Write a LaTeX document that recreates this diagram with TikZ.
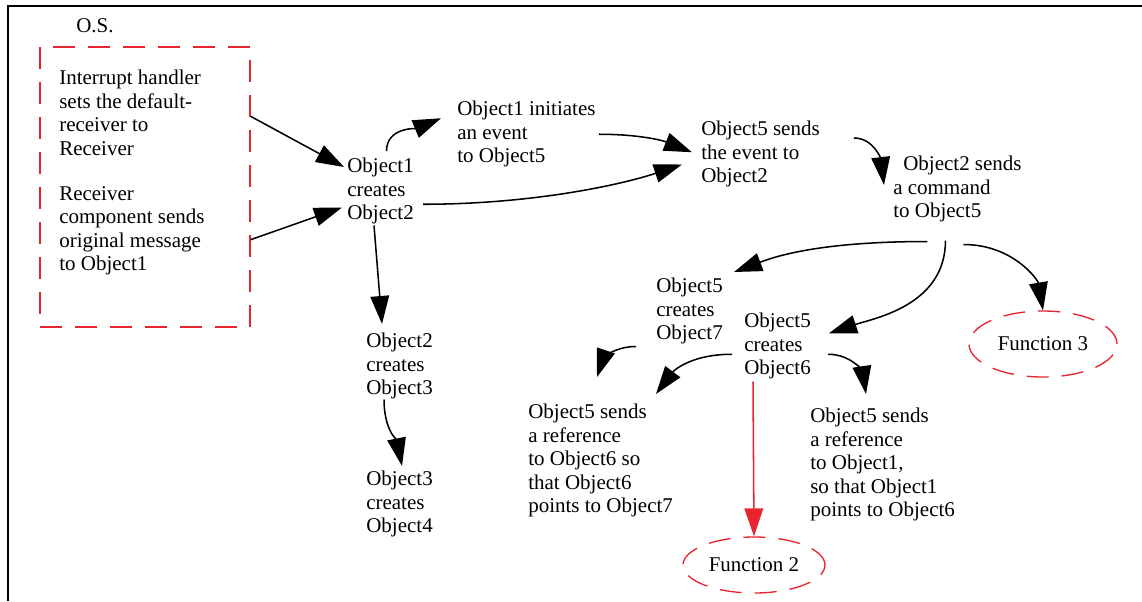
\documentclass[tikz,border=0pt]{standalone}
\usepackage{fontspec}
\setmainfont{Liberation Serif}
\usetikzlibrary{arrows.meta,calc,shapes.geometric}
\definecolor{osred}{RGB}{232,36,46}

\begin{document}
\begin{tikzpicture}[x=0.75pt,y=0.75pt,yscale=-1,xscale=1,
    lbl/.style={anchor=north west,inner sep=0.75pt,align=left,font=\fontsize{15.75pt}{17.6pt}\selectfont},
    flow/.style={line width=1.15pt,-{Triangle[length=21pt,width=14pt]}},
    redflow/.style={flow,color=osred},
    osdash/.style={draw=osred,line width=1pt,dash pattern=on 16.5pt off 9.75pt},
    fnblob/.style={ellipse,osdash,inner sep=0pt,font=\fontsize{15.75pt}{17.6pt}\selectfont}]
        \useasboundingbox (0,0) rectangle (1142,601);

        %Straight Lines [frame]
        \draw [line width=1.5pt] (8,601) -- (8,6) -- (1142,6) ;

        %Shape: Rectangle [O.S.]
        \node [osdash, minimum width=157.5pt, minimum height=210pt] (osbox) at (145,187) {};
        %Shape: Ellipse [Function 3]
        \node [fnblob, minimum width=111pt, minimum height=49.5pt] (fn3) at (1043,344) {Function 3};
        %Shape: Ellipse [Function 2]
        \node [fnblob, minimum width=106.5pt, minimum height=42pt] (fn2) at (754,565) {Function 2};

        % Text Node
        \draw (75,17) node [lbl] (oslabel) {O.S.};
        % Text Node
        \draw (58,69) node [lbl] (handler) {Interrupt handler\\sets the default-\\receiver to\\Receiver};
        % Text Node
        \draw (58,185) node [lbl] (recv) {Receiver\\component sends\\original message\\to Object1};
        % Text Node
        \draw (346,157) node [lbl] (obj12) {Object1\\creates\\Object2};
        % Text Node
        \draw (456,100) node [lbl] (init) {Object1 initiates\\an event\\to Object5};
        % Text Node
        \draw (700,120) node [lbl] (evt) {Object5 sends\\the event to\\Object2};
        % Text Node
        \draw (892,155) node [lbl] (cmd) {\hspace*{7.5pt}Object2 sends\\a command\\to Object5};
        % Text Node
        \draw (655,277) node [lbl] (obj7) {Object5\\creates\\Object7};
        % Text Node
        \draw (743,312) node [lbl] (obj6) {Object5\\creates\\Object6};
        % Text Node
        \draw (365,332) node [lbl] (obj3) {Object2\\creates\\Object3};
        % Text Node
        \draw (365,470) node [lbl] (obj4) {Object3\\creates\\Object4};
        % Text Node
        \draw (527,403) node [lbl] (ref7) {Object5 sends\\a reference\\to Object6 so\\that Object6\\points to Object7};
        % Text Node
        \draw (809,407) node [lbl] (ref1) {Object5 sends\\a reference\\to Object1,\\so that Object1\\points to Object6};

        %Straight Lines
        \draw [flow] ($(osbox.north east)+(0,70)$) -- ($(obj12.north west)+(-2,10)$) ;
        %Straight Lines
        \draw [flow] ($(osbox.south east)+(0,-88)$) -- ($(obj12.south west)+(-4,-18)$) ;
        %Curve Lines
        \draw [flow] ($(obj12.north)+(6,-6)$) .. controls +(0,-24) and +(-24,10) .. ($(init.west)+(-15,-16)$) ;
        %Curve Lines
        \draw [flow] ($(init.east)+(2,0)$) .. controls +(40,0) and +(-30,-12) .. ($(evt.west)+(-8,-2)$) ;
        %Curve Lines
        \draw [flow] ($(obj12.east)+(8,13)$) .. controls +(110,0) and +(-60,20) .. ($(evt.south west)+(-18,-24)$) ;
        %Curve Lines
        \draw [flow] ($(evt.north east)+(33,18)$) .. controls +(20,0) and +(-3,-25) .. ($(cmd.north west)+(-8,30)$) ;
        %Curve Lines
        \draw [flow] ($(cmd.south)+(-30,18)$) .. controls +(-110,0) and +(40,-15) .. ($(obj7.north east)+(10,-5)$) ;
        %Curve Lines
        \draw [flow] ($(cmd.south)+(-12,17)$) .. controls +(0,65) and +(45,-15) .. ($(obj6.east)+(17,-13)$) ;
        %Curve Lines
        \draw [flow] ($(cmd.south)+(6,21)$) .. controls +(50,0) and +(-5,-30) .. (fn3.north) ;
        %Curve Lines
        \draw [flow] ($(obj7.south west)+(-19,1)$) .. controls +(-25,0) and +(5,-15) .. ($(ref7.north west)+(70,-26)$) ;
        %Curve Lines
        \draw [flow] ($(obj6.west)+(-11,8)$) .. controls +(-45,0) and +(15,-20) .. ($(ref7.north west)+(129,-9)$) ;
        %Curve Lines
        \draw [flow] ($(obj6.east)+(16,8)$) .. controls +(25,0) and +(-3,-20) .. ($(ref1.north west)+(57,-13)$) ;
        %Straight Lines
        \draw [redflow] ($(obj6.south west)+(10,1)$) -- (fn2.north) ;
        %Straight Lines
        \draw [flow] ($(obj12.south west)+(28,0)$) -- ($(obj3.north west)+(17,-8)$) ;
        %Curve Lines
        \draw [flow] ($(obj3.south west)+(19,-1)$) .. controls +(0,30) and +(-5,-25) .. ($(obj4.north west)+(37,-4)$) ;

\end{tikzpicture}
\end{document}
